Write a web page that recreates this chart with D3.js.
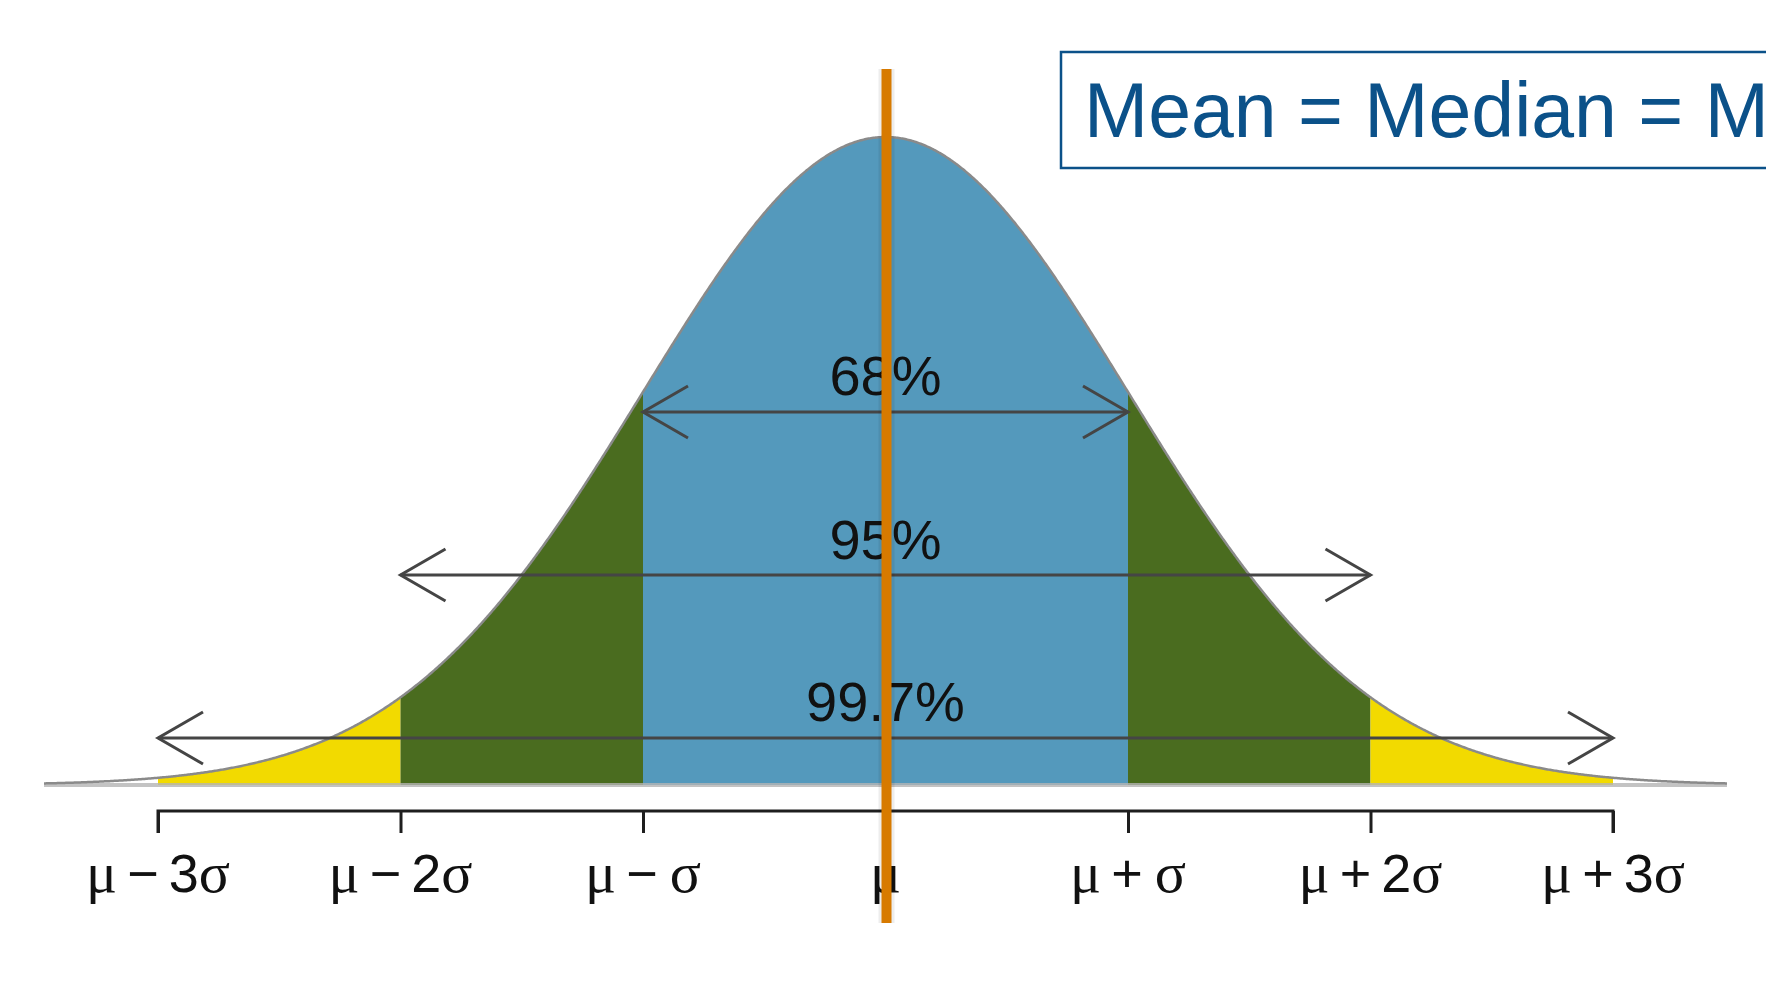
<!DOCTYPE html>
<html>
<head>
<meta charset="utf-8">
<script src="https://cdn.jsdelivr.net/npm/d3@7"></script>
<style>
  html, body { margin: 0; padding: 0; background: #ffffff; overflow: hidden; }
  svg { display: block; }
</style>
</head>
<body>
<svg id="chart" width="1766" height="1000"></svg>
<script>
// ---------- data ----------
const sigmaTicks   = [-3, -2, -1, 0, 1, 2, 3];
const tickLabels   = [["μ", "−", "3σ"], ["μ", "−", "2σ"], ["μ", "−", "σ"], ["μ", "", ""], ["μ", "+", "σ"], ["μ", "+", "2σ"], ["μ", "+", "3σ"]];
const bandFrom     = [-3, -2, -1, 1, 2];
const bandTo       = [-2, -1,  1, 2, 3];
const bandGroup    = ["tail", "mid", "core", "mid", "tail"];
const ruleSpans    = [1, 2, 3];
const ruleLabels   = ["68%", "95%", "99.7%"];
const curveExtent  = [-3.47, 3.47];
const legendText   = "Mean = Median = Mode";

// ---------- styles / layout ----------
const colors = { core: "#5499bc", mid: "#4a6c1f", tail: "#f2da00", curve: "#8a8a8a",
                 base: "#b4b4b4", arrow: "#454545", axis: "#1e1e1e", orange: "#d77a00",
                 legend: "#0b5189" };
const ruleY     = [412, 575, 738];
const ruleTextY = [395, 559, 721];

const svg = d3.select("#chart");
const x = d3.scaleLinear().domain([-3, 3]).range([158, 1613]);
const peak = 1 / Math.sqrt(2 * Math.PI);
const y = d3.scaleLinear().domain([0, peak]).range([785, 137]);
const pdf = z => Math.exp(-z * z / 2) / Math.sqrt(2 * Math.PI);

const area = d3.area().x(d => x(d)).y0(y(0)).y1(d => y(pdf(d)));
const line = d3.line().x(d => x(d)).y(d => y(pdf(d)));

// bands
bandFrom.forEach((a, i) => {
  const pts = d3.range(a, bandTo[i] + 1e-9, 0.005);
  if (pts[pts.length - 1] < bandTo[i]) pts.push(bandTo[i]);
  svg.append("path").attr("d", area(pts)).attr("fill", colors[bandGroup[i]]);
});

// baseline
svg.append("line")
  .attr("x1", x(curveExtent[0])).attr("x2", x(curveExtent[1]))
  .attr("y1", y(0)).attr("y2", y(0))
  .attr("stroke", colors.base).attr("stroke-width", 4).attr("stroke-opacity", 0.8);

// curve
const cpts = d3.range(curveExtent[0], curveExtent[1] + 1e-9, 0.005);
svg.append("path").attr("d", line(cpts)).attr("fill", "none")
  .attr("stroke", colors.curve).attr("stroke-width", 2.5);

// arrows
ruleSpans.forEach((s, i) => {
  const g = svg.append("g").attr("stroke", colors.arrow).attr("stroke-width", 3).attr("fill", "none");
  const yy = ruleY[i], xl = x(-s), xr = x(s);
  g.append("line").attr("x1", xl).attr("x2", xr).attr("y1", yy).attr("y2", yy);
  g.append("path").attr("d", `M${xl + 45},${yy - 26} L${xl},${yy} L${xl + 45},${yy + 26}`);
  g.append("path").attr("d", `M${xr - 45},${yy - 26} L${xr},${yy} L${xr - 45},${yy + 26}`);
  svg.append("text").attr("x", x(0)).attr("y", ruleTextY[i])
    .attr("text-anchor", "middle").attr("font-family", "Liberation Sans, Arial, sans-serif")
    .attr("font-size", 56).attr("fill", "#111").text(ruleLabels[i]);
});

// axis
const axis = d3.axisBottom(x).tickValues(sigmaTicks).tickSize(22).tickSizeOuter(0).tickFormat("");
const ag = svg.append("g").attr("transform", `translate(0, 811)`).call(axis);
ag.select(".domain").attr("stroke", colors.axis).attr("stroke-width", 3)
  .attr("d", `M${x(-3)},22V0H${x(3)}V22`);
ag.selectAll(".tick line").attr("stroke", colors.axis).attr("stroke-width", 3);

// tick labels
sigmaTicks.forEach((t, i) => {
  const [mu, op, rest] = tickLabels[i];
  const txt = svg.append("text").attr("x", x(t)).attr("y", 892)
    .attr("text-anchor", "middle").attr("font-size", 54).attr("fill", "#111")
    .attr("font-family", "Liberation Sans, Arial, sans-serif");
  txt.append("tspan").attr("font-family", "Liberation Serif, serif").attr("font-size", 58).text(mu);
  if (op) {
    txt.append("tspan").attr("dx", 10).text(op);
    const m = rest.match(/^(\d*)(σ)$/);
    if (m[1]) {
      txt.append("tspan").attr("dx", 10).text(m[1]);
      txt.append("tspan").attr("font-family", "Liberation Serif, serif").attr("font-size", 58).text(m[2]);
    } else {
      txt.append("tspan").attr("dx", 12).attr("font-family", "Liberation Serif, serif").attr("font-size", 58).text(m[2]);
    }
  }
});

// mean line (orange) with soft shadow
svg.append("line").attr("x1", x(0) + 1).attr("x2", x(0) + 1).attr("y1", 69).attr("y2", 923)
  .attr("stroke", "#000").attr("stroke-opacity", 0.07).attr("stroke-width", 16);
svg.append("line").attr("x1", x(0) + 1).attr("x2", x(0) + 1).attr("y1", 69).attr("y2", 923)
  .attr("stroke", colors.orange).attr("stroke-width", 10);

// legend box
svg.append("rect").attr("x", 1061).attr("y", 52).attr("width", 800).attr("height", 116)
  .attr("fill", "#fff").attr("stroke", colors.legend).attr("stroke-width", 2.5);
svg.append("text").attr("x", 1084).attr("y", 137)
  .attr("font-family", "Liberation Sans, Arial, sans-serif").attr("font-size", 77)
  .attr("fill", colors.legend).text(legendText);
</script>
</body>
</html>
